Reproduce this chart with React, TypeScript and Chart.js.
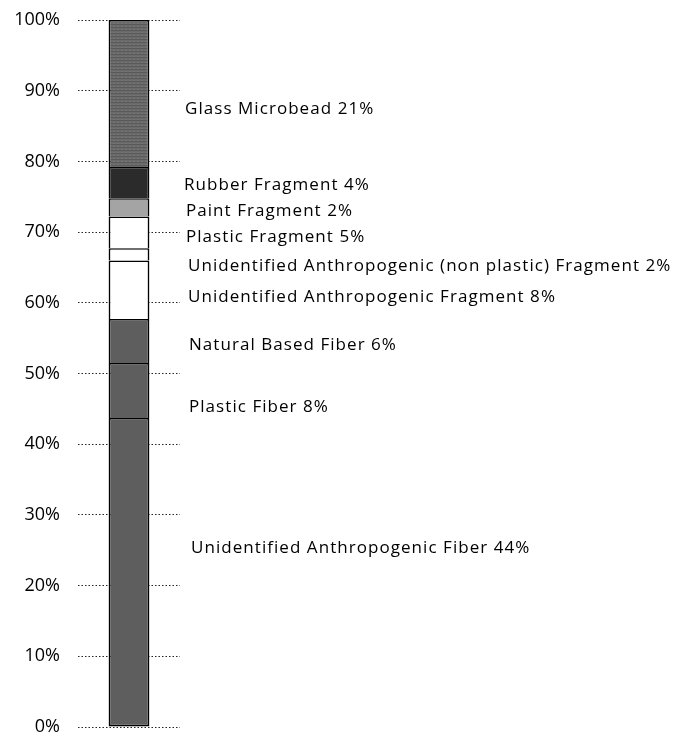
import React, { useEffect, useRef } from "react";
import { Chart, registerables } from "chart.js";

Chart.register(...registerables);

const categories = ["Sample"];
// bottom to top
const segmentNames = [
  "Unidentified Anthropogenic Fiber",
  "Plastic Fiber",
  "Natural Based Fiber",
  "Unidentified Anthropogenic Fragment",
  "Unidentified Anthropogenic (non plastic) Fragment",
  "Plastic Fragment",
  "Paint Fragment",
  "Rubber Fragment",
  "Glass Microbead",
];
const segmentValues = [43.7, 7.8, 6.2, 8.3, 1.7, 4.5, 2.6, 4.4, 20.8];
const labelTexts = [
  "Unidentified Anthropogenic Fiber 44%",
  "Plastic Fiber 8%",
  "Natural Based Fiber 6%",
  "Unidentified Anthropogenic Fragment 8%",
  "Unidentified Anthropogenic (non plastic) Fragment 2%",
  "Plastic Fragment 5%",
  "Paint Fragment 2%",
  "Rubber Fragment 4%",
  "Glass Microbead 21%",
];
const yTickValues = [0, 10, 20, 30, 40, 50, 60, 70, 80, 90, 100];

// layout constants for annotation placement (value units / pixel offsets)
const labelAnchors = [25.3, 45.3, 54.0, 60.8, 65.2, 69.3, 72.9, 76.7, 87.4];
const labelDx = [11, 9, 9, 8, 8, 6, 6, 4, 5];

function makeGlassPattern(): CanvasPattern | string {
  const c = document.createElement("canvas");
  c.width = 4;
  c.height = 3;
  const g = c.getContext("2d");
  if (!g) return "#666";
  g.fillStyle = "#6a6a6a";
  g.fillRect(0, 0, 4, 3);
  g.fillStyle = "#5a5a5a";
  g.fillRect(0, 0, 4, 1);
  g.fillStyle = "#757575";
  g.fillRect(1, 2, 2, 1);
  const p = g.createPattern(c, "repeat");
  return p || "#666";
}

export default function App() {
  const ref = useRef<HTMLCanvasElement | null>(null);

  useEffect(() => {
    const canvas = ref.current;
    if (!canvas) return;
    const glass = makeGlassPattern();
    const colors: (string | CanvasPattern)[] = [
      "#5e5e5e",
      "#5e5e5e",
      "#5e5e5e",
      "#ffffff",
      "#ffffff",
      "#ffffff",
      "#a4a4a4",
      "#2b2b2b",
      glass,
    ];

    const labelPlugin = {
      id: "segLabels",
      afterDraw(chart: any) {
        const ctx = chart.ctx as CanvasRenderingContext2D;
        const yScale = chart.scales.y;
        const right = chart.chartArea.right;
        ctx.save();
        ctx.font = "17px 'Open Sans'";
        (ctx as any).letterSpacing = "1.05px";
        ctx.fillStyle = "#000";
        ctx.textAlign = "left";
        ctx.textBaseline = "middle";
        labelTexts.forEach((t, i) => {
          const y = yScale.getPixelForValue(labelAnchors[i]);
          ctx.fillText(t, right + labelDx[i], y);
        });
        ctx.restore();
      },
    };

    const chart = new Chart(canvas, {
      type: "bar",
      data: {
        labels: categories,
        datasets: segmentNames.map((name, i) => ({
          label: name,
          data: [segmentValues[i]],
          backgroundColor: colors[i] as any,
          borderColor: "#000",
          borderWidth: { top: 1.5, left: 1.8, right: 1.8, bottom: i === 0 ? 1.8 : 0 },
          borderSkipped: false,
          barPercentage: 0.4,
          categoryPercentage: 1,
        })),
      },
      options: {
        responsive: false,
        animation: false,
        layout: { padding: { top: 20, bottom: 5, left: 0, right: 500 } },
        plugins: {
          legend: { display: false },
          tooltip: { enabled: false },
        },
        scales: {
          x: { stacked: true, display: false },
          y: {
            stacked: true,
            min: 0,
            max: 100,
            afterBuildTicks: (s: any) => {
              s.ticks = yTickValues.map((v) => ({ value: v }));
            },
            afterFit: (s: any) => {
              s.width = 78;
              s.paddingTop = 0;
              s.paddingBottom = 0;
            },
            ticks: {
              padding: 18,
              color: "#000",
              font: { family: "'Open Sans'", size: 18 },
              callback: (v: any) => v + "%",
            },
            grid: {
              color: "#222",
              lineWidth: 1,
              drawTicks: false,
            },
            border: { display: false, dash: [1.5, 2] },
          },
        },
      },
      plugins: [labelPlugin],
    });
    return () => chart.destroy();
  }, []);

  return (
    <div style={{ position: "absolute", left: 0, top: 0, width: 680, height: 732, background: "#fff" }}>
      <canvas ref={ref} width={680} height={732} style={{ display: "block" }} />
    </div>
  );
}
